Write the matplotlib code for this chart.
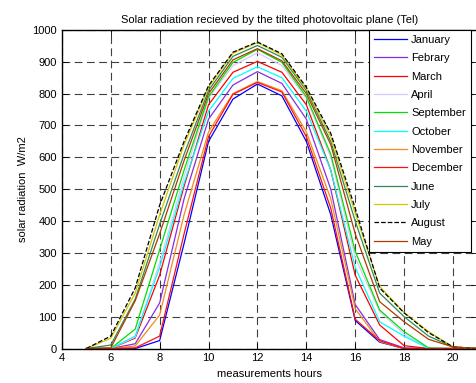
import numpy as np
import matplotlib
matplotlib.use('Agg')
import matplotlib.pyplot as plt

plt.rcParams['font.family'] = ['Liberation Sans', 'DejaVu Sans']

hours = [5, 6, 7, 8, 9, 10, 11, 12, 13, 14, 15, 16, 17, 18, 19, 20, 21]

# irradiance on the tilted plane, W/m2
january   = [0, 0, 0, 25, 330, 650, 783, 830, 793, 650, 420, 88, 20, 0, 0, 0, 0]
febrary   = [0, 0, 15, 143, 470, 720, 827, 869, 832, 720, 500, 138, 28, 2, 0, 0, 0]
march     = [0, 0, 33, 230, 510, 765, 867, 901, 867, 765, 560, 230, 74, 9, 0, 0, 0]
april     = [0, 0, 36, 270, 540, 785, 888, 928, 888, 785, 600, 285, 116, 45, 0, 0, 0]
september = [0, 0, 61, 310, 560, 790, 898, 939, 898, 790, 610, 305, 121, 53, 2, 0, 0]
october   = [0, 0, 39, 255, 520, 745, 848, 884, 850, 745, 560, 255, 84, 39, 0, 0, 0]
november  = [0, 0, 8, 105, 420, 680, 800, 838, 809, 680, 470, 125, 22, 0, 0, 0, 0]
december  = [0, 0, 2, 39, 360, 665, 798, 835, 805, 665, 440, 92, 25, 0, 0, 0, 0]
june      = [0, 11, 155, 390, 610, 810, 917, 951, 914, 810, 650, 400, 174, 100, 39, 5, 0]
july      = [0, 32, 174, 420, 640, 820, 927, 960, 921, 815, 665, 425, 195, 113, 53, 5, 0]
august    = [0, 39, 190, 450, 650, 825, 930, 962, 925, 820, 675, 440, 190, 112, 50, 5, 0]
may       = [0, 2, 150, 360, 590, 800, 906, 941, 903, 800, 640, 360, 147, 84, 29, 5, 0]

series = [
    ('January', january, '#0000ff', '-'),
    ('Febrary', febrary, '#8a2be2', '-'),
    ('March', march, '#ff0000', '-'),
    ('April', april, '#dcc8ff', '-'),
    ('September', september, '#00e000', '-'),
    ('October', october, '#00ffff', '-'),
    ('November', november, '#f08c20', '-'),
    ('December', december, '#ff1010', '-'),
    ('June', june, '#2e8b57', '-'),
    ('July', july, '#d0c800', '-'),
    ('August', august, 'k', '--'),
    ('May', may, '#b03a00', '-'),
]

fig = plt.figure(figsize=(4.76, 3.83), dpi=100)
ax = fig.add_axes([0.130, 0.090, 0.873, 0.832])

for name, vals, col, ls in series:
    ax.plot(hours, vals, color=col, ls=ls, lw=0.9, label=name)

ax.set_xlim(4, 21)
ax.set_ylim(0, 1000)
ax.set_xticks([4, 6, 8, 10, 12, 14, 16, 18, 20])
ax.set_yticks(np.arange(0, 1001, 100))
ax.tick_params(direction='in', labelsize=8, length=4, width=0.6,
               top=True, right=True)
ax.grid(True, color='0.25', ls=(0, (7, 4)), lw=0.8)

for s in ax.spines.values():
    s.set_linewidth(1.0)

ax.set_title('Solar radiation recieved by the tilted photovoltaic plane (Tel)', fontsize=8, pad=5)
ax.set_xlabel('measurements hours', fontsize=8, labelpad=4)
ax.set_ylabel('solar radiation  W/m2', fontsize=8, labelpad=3)

leg = ax.legend(loc='upper right', fontsize=8, fancybox=False, framealpha=1,
                edgecolor='k', borderaxespad=0.0, handlelength=2.9,
                handletextpad=0.4, labelspacing=0.75, borderpad=0.45,
                bbox_to_anchor=(0.984, 1.0))
leg.get_frame().set_linewidth(0.8)

fig.savefig('out.png', dpi=100)
